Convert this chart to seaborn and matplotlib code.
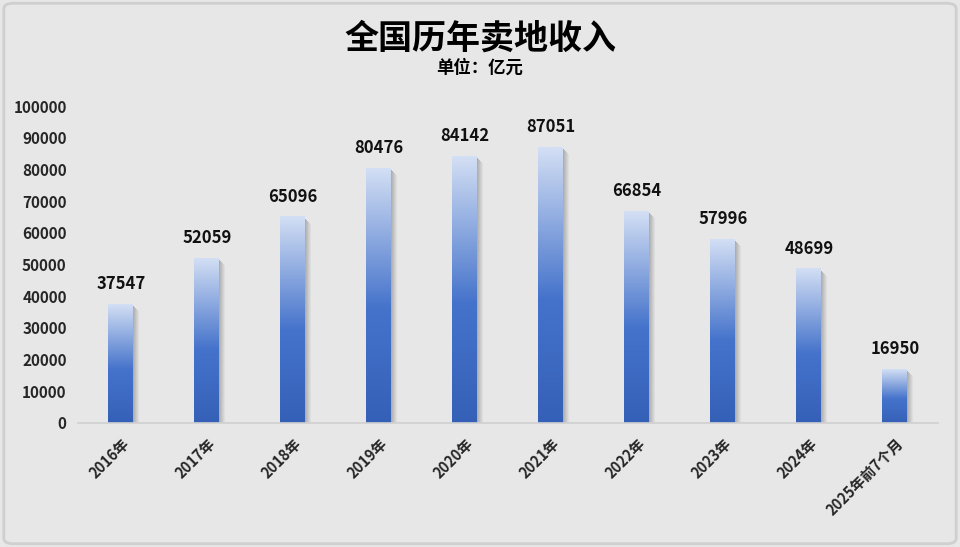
import numpy as np
import pandas as pd
import matplotlib
matplotlib.use("Agg")
import matplotlib.pyplot as plt
import seaborn as sns
from matplotlib.colors import LinearSegmentedColormap
from matplotlib.patches import Rectangle, FancyBboxPatch

years = ['2016年', '2017年', '2018年', '2019年', '2020年', '2021年',
         '2022年', '2023年', '2024年', '2025年前7个月']
values = [37547, 52059, 65096, 80476, 84142, 87051, 66854, 57996, 48699, 16950]
y_ticks = list(range(0, 100001, 10000))

title = '全国历年卖地收入'
subtitle = '单位：亿元'

bg = '#e7e7e7'
sns.set_theme(style="white")
plt.rcParams['font.family'] = ['Noto Sans CJK SC', 'DejaVu Sans']

fig = plt.figure(figsize=(9.6, 5.47), dpi=100, facecolor=bg)
ax = fig.add_axes([0.081, 0.227, 0.896, 0.579])
ax.set_facecolor(bg)

df = pd.DataFrame({'year': years, 'value': values})
sns.barplot(data=df, x='year', y='value', color='#4472c4', width=0.29, ax=ax,
            saturation=1)

ax.set_ylim(0, 100000)
ax.set_xlim(-0.5, len(years) - 0.5)
ax.set_yticks(y_ticks)
ax.set_yticklabels([str(t) for t in y_ticks], fontsize=11, fontweight='bold')
ax.tick_params(axis='y', length=0, pad=8)
ax.tick_params(axis='x', length=0, pad=9)
ax.set_xticks(range(len(years)))
ax.set_xticklabels(years, rotation=45, ha='right', rotation_mode='anchor',
                   fontsize=10.5, fontweight='bold')
ax.set_xlabel('')
ax.set_ylabel('')
for s in ['top', 'right', 'left']:
    ax.spines[s].set_visible(False)
ax.spines['bottom'].set_color('#d0d0d0')
ax.spines['bottom'].set_linewidth(1.2)

cmap = LinearSegmentedColormap.from_list(
    'bar', [(0.0, '#3560b8'), (0.45, '#4573cb'), (1.0, '#d3dff4')])
grad = np.linspace(0, 1, 256).reshape(-1, 1)
px = 1.0 / 86  # data units per pixel along x
py = 100000 / 317  # data units per pixel along y

for p, v in zip(list(ax.patches), values):
    x0 = p.get_x()
    w = p.get_width()
    h = p.get_height()
    # soft shadow on the right side
    for k in range(6):
        ax.add_patch(Rectangle((x0 + w + k * px, 0), px, h - (k + 2) * py,
                               facecolor='#6a6a6a', alpha=0.45 * (1 - k / 6),
                               edgecolor='none', zorder=1))
    p.set_facecolor('none')
    p.set_edgecolor('none')
    ax.imshow(grad, extent=[x0, x0 + w, 0, h], origin='lower', cmap=cmap,
              aspect='auto', zorder=2, interpolation='bilinear')
    ax.text(x0 + w / 2, h + 15 * py, str(v), ha='center', va='baseline',
            fontsize=12, fontweight='bold', color='#111111', zorder=3)

ax.set_xlim(-0.5, len(years) - 0.5)
ax.set_ylim(0, 100000)

fig.text(0.5, 0.93, title, ha='center', va='center', fontsize=24.5,
         fontweight='bold', color='black')
fig.text(0.5, 0.877, subtitle, ha='center', va='center', fontsize=12.5,
         fontweight='bold', color='black')

fig.patches.append(FancyBboxPatch((0.004, 0.006), 0.992, 0.988,
                                  boxstyle='round,pad=0,rounding_size=0.01',
                                  transform=fig.transFigure, facecolor='none',
                                  edgecolor='#cfcfcf', linewidth=2))

fig.savefig('out.png', dpi=100, facecolor=bg)
